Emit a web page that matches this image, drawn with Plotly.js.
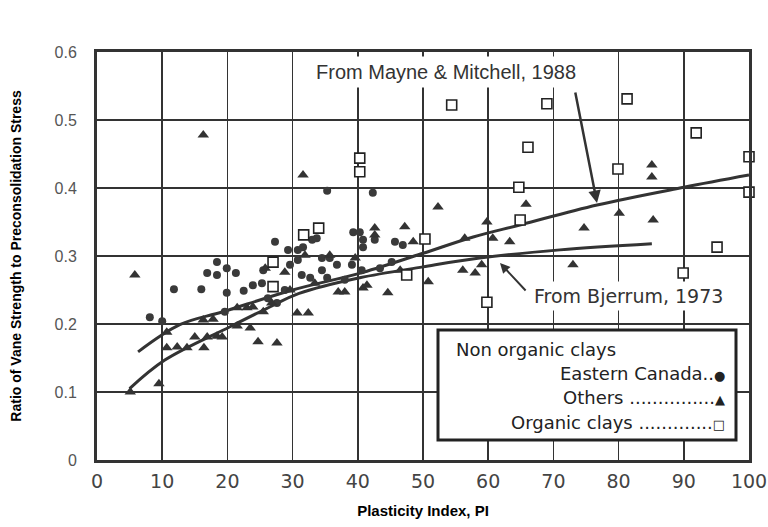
<!DOCTYPE html>
<html>
<head>
<meta charset="utf-8">
<script src="https://cdn.plot.ly/plotly-3.0.1.min.js"></script>
<style>html,body{margin:0;padding:0;background:#fff;}#chart{width:768px;height:527px;}</style>
</head>
<body>
<div id="chart"></div>
<script>
// Eastern Canada (non organic clays) - circles
const canadaPI = [8.1,10.0,11.8,16.0,18.4,16.9,18.4,19.9,21.3,19.9,22.5,23.9,25.3,26.2,19.6,27.3,35.3,42.3,39.3,40.3,40.8,42.6,33.7,29.3,31.6,45.7,46.9,30.8,30.8,33.0,34.5,35.7,36.8,40.8,39.1,40.6,34.5,31.4,32.7,35.3,43.4,27.6,28.8,29.6,38.0,45.2,25.5];
const canadaR  = [0.210,0.204,0.251,0.251,0.291,0.275,0.272,0.282,0.275,0.246,0.249,0.257,0.260,0.238,0.218,0.321,0.396,0.393,0.335,0.335,0.324,0.324,0.326,0.309,0.313,0.321,0.316,0.309,0.294,0.324,0.297,0.297,0.287,0.313,0.287,0.279,0.279,0.272,0.268,0.268,0.282,0.231,0.250,0.287,0.265,0.291,0.279];
// Others (non organic clays) - triangles
const othersPI = [5.8,16.3,5.1,9.5,10.7,12.3,13.8,16.4,15.0,16.9,18.4,19.2,16.3,17.8,21.5,23.5,24.7,27.6,25.8,23.0,23.9,25.5,26.8,21.5,30.7,32.4,28.8,37.0,38.0,40.8,41.4,44.6,50.8,56.1,58.0,59.0,31.6,52.3,47.2,48.5,42.6,42.6,56.4,59.8,65.8,60.7,63.3,74.7,80.1,85.3,85.1,85.1,73.0,31.9,35.7,39.6,33.4,46.5,10.7,29.6];
const othersR  = [0.272,0.478,0.100,0.112,0.165,0.166,0.165,0.165,0.181,0.181,0.182,0.181,0.206,0.207,0.197,0.194,0.174,0.172,0.282,0.224,0.225,0.218,0.231,0.224,0.216,0.216,0.276,0.247,0.247,0.253,0.257,0.246,0.262,0.279,0.275,0.287,0.419,0.372,0.343,0.321,0.341,0.331,0.326,0.350,0.376,0.326,0.321,0.341,0.363,0.353,0.434,0.416,0.287,0.301,0.301,0.297,0.260,0.279,0.188,0.250];
// Organic clays - open squares
const organicPI = [27.0,27.0,31.7,34.0,40.3,40.3,54.4,50.3,47.5,69.0,81.3,66.1,91.9,79.9,64.7,64.9,100.0,100.0,95.1,89.9,59.8];
const organicR  = [0.291,0.255,0.331,0.341,0.444,0.424,0.522,0.325,0.272,0.524,0.531,0.460,0.481,0.428,0.401,0.353,0.446,0.394,0.313,0.275,0.232];
// Curves
const mayneX = [6.3,12.7,19.3,30,40.8,50,57.7,65,76.7,90,100];
const mayneY = [0.159,0.199,0.218,0.250,0.276,0.304,0.328,0.346,0.375,0.401,0.419];
const bjerrumX = [5,10.4,20.4,26.5,31,40.3,50,58.7,71,85.1];
const bjerrumY = [0.105,0.147,0.196,0.225,0.245,0.268,0.284,0.297,0.309,0.318];
const xTicks = [0,10,20,30,40,50,60,70,80,90,100];
const xTickText = ['0','10','20','30','40','50','60','70','80','90','100'];
const yTicks = [0,0.1,0.2,0.3,0.4,0.5,0.6];
const yTickText = ['0','0.1','0.2','0.3','0.4','0.5','0.6'];

const L = 97, R = 749, T = 52, B = 460;
const px = v => (v - L) / (R - L);
const py = v => (B - v) / (B - T);

const hand = 'DejaVu Sans, sans-serif';
const arial = 'Liberation Sans, Arial, sans-serif';

const traces = [
  {x: mayneX, y: mayneY, mode: 'lines', line: {color: '#333', width: 3, shape: 'spline'}, hoverinfo: 'skip'},
  {x: bjerrumX, y: bjerrumY, mode: 'lines', line: {color: '#333', width: 3, shape: 'spline'}, hoverinfo: 'skip'},
  {x: canadaPI, y: canadaR, mode: 'markers', marker: {symbol: 'circle', size: 8, color: '#3a3a3a'}},
  {x: othersPI, y: othersR, mode: 'markers', marker: {symbol: 'triangle-up', size: 10, color: '#333'}},
  {x: organicPI, y: organicR, mode: 'markers', marker: {symbol: 'square', size: 10, color: '#fff', line: {color: '#222', width: 1.6}}, cliponaxis: false}
];

const g = s => '<span style="font-size:13px">' + s + '</span>';

const layout = {
  width: 768, height: 527,
  margin: {l: L, r: 768 - R, t: T, b: 527 - B},
  paper_bgcolor: '#fff', plot_bgcolor: '#fff',
  showlegend: false,
  xaxis: {
    range: [0, 100], tickvals: xTicks, ticktext: xTickText,
    showgrid: true, gridcolor: '#333', gridwidth: 1.5,
    zeroline: false, showline: true, linecolor: '#333', linewidth: 3, mirror: true,
    ticks: '', ticklabelstandoff: 2,
    tickfont: {family: hand, size: 19, color: '#444'},
    title: {text: 'Plasticity Index, PI', font: {family: arial, size: 15, color: '#000', weight: 'bold'}, standoff: 15}
  },
  yaxis: {
    range: [0, 0.6], tickvals: yTicks, ticktext: yTickText,
    showgrid: true, gridcolor: '#333', gridwidth: 1.5,
    zeroline: false, showline: true, linecolor: '#333', linewidth: 3, mirror: true,
    ticks: '', ticklabelstandoff: 14,
    tickfont: {family: arial, size: 16, color: '#555'},
    title: {text: 'Ratio of Vane Strength to Preconsolidation Stress', font: {family: arial, size: 14, color: '#000', weight: 'bold'}, standoff: 30}
  },
  shapes: [
    {type: 'rect', xref: 'paper', yref: 'paper', x0: px(438), x1: px(736), y0: py(440), y1: py(330),
     fillcolor: '#fff', line: {color: '#222', width: 3}, layer: 'above'}
  ],
  annotations: [
    {xref: 'paper', yref: 'paper', x: px(446), y: py(72), xanchor: 'center', yanchor: 'middle',
     text: 'From Mayne & Mitchell, 1988', showarrow: false, bgcolor: '#fff', borderpad: 4,
     font: {family: arial, size: 20, color: '#333'}},
    {xref: 'paper', yref: 'paper', x: px(597), y: py(203), ax: -22, ay: -112,
     text: '', showarrow: true, arrowhead: 2, arrowsize: 1, arrowwidth: 2.5, arrowcolor: '#333'},
    {xref: 'paper', yref: 'paper', x: px(628), y: py(296), xanchor: 'center', yanchor: 'middle',
     text: 'From Bjerrum, 1973', showarrow: false, bgcolor: '#fff', borderpad: 3,
     font: {family: hand, size: 19, color: '#333'}},
    {xref: 'paper', yref: 'paper', x: px(500), y: py(263), ax: 27, ay: 29,
     text: '', showarrow: true, arrowhead: 2, arrowsize: 1, arrowwidth: 2, arrowcolor: '#333'},
    {xref: 'paper', yref: 'paper', x: px(454), y: py(349), xanchor: 'left', yanchor: 'middle',
     text: 'Non organic clays', showarrow: false, font: {family: hand, size: 18, color: '#222'}},
    {xref: 'paper', yref: 'paper', x: px(727), y: py(373), xanchor: 'right', yanchor: 'middle',
     text: 'Eastern Canada..' + g('●'), showarrow: false, font: {family: hand, size: 18, color: '#222'}},
    {xref: 'paper', yref: 'paper', x: px(727), y: py(397), xanchor: 'right', yanchor: 'middle',
     text: 'Others ...............' + g('▲'), showarrow: false, font: {family: hand, size: 18, color: '#222'}},
    {xref: 'paper', yref: 'paper', x: px(727), y: py(422), xanchor: 'right', yanchor: 'middle',
     text: 'Organic clays .............' + g('□'), showarrow: false, font: {family: hand, size: 18, color: '#222'}}
  ]
};

Plotly.newPlot('chart', traces, layout, {staticPlot: true, displayModeBar: false});
</script>
</body>
</html>
